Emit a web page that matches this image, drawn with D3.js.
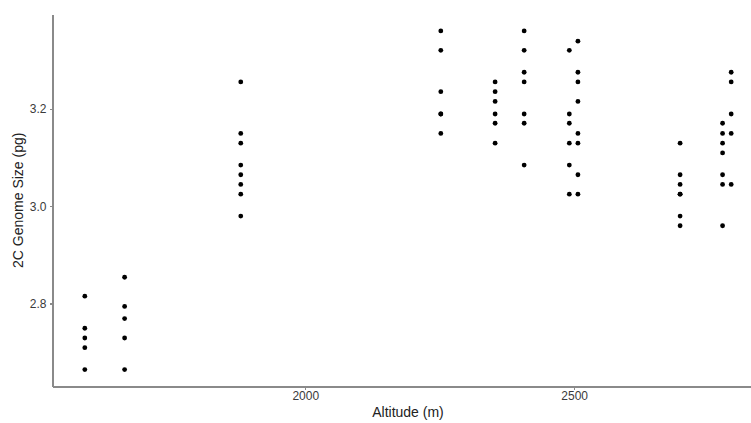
<!doctype html>
<html>
<head>
<meta charset="utf-8">
<title>Genome size vs altitude</title>
<script src="https://cdn.jsdelivr.net/npm/d3@7"></script>
<style>
body { margin: 0; background: #fff; font-family: 'Liberation Sans', Arial, sans-serif; }
.axis path, .axis line { stroke: #8a8a8a; stroke-width: 1.1; shape-rendering: crispEdges; }
.axis text { fill: #3a3a3a; font-size: 12px; font-family: 'Liberation Sans', Arial, sans-serif; }
.title { fill: #222; font-size: 14px; }
</style>
</head>
<body>
<svg id="chart" width="751" height="423"></svg>
<script>
// sites (m) and the 2C values measured at each
var altitudes = [1590, 1664, 1880, 2252, 2353, 2407, 2491, 2507, 2697, 2776, 2792];
var sizes = [
  [2.815, 2.749, 2.729, 2.709, 2.664],
  [2.854, 2.794, 2.769, 2.729, 2.664],
  [3.256, 3.150, 3.130, 3.085, 3.065, 3.045, 3.025, 2.980],
  [3.361, 3.321, 3.236, 3.190, 3.190, 3.150],
  [3.256, 3.236, 3.216, 3.190, 3.171, 3.130],
  [3.361, 3.321, 3.276, 3.256, 3.190, 3.171, 3.085],
  [3.321, 3.190, 3.171, 3.130, 3.085, 3.025],
  [3.340, 3.276, 3.256, 3.216, 3.150, 3.130, 3.065, 3.025],
  [3.130, 3.065, 3.045, 3.025, 3.025, 2.980, 2.960],
  [3.171, 3.150, 3.130, 3.110, 3.065, 3.045, 2.960],
  [3.276, 3.256, 3.190, 3.150, 3.045]
];
var xTicks = [2000, 2500];
var yTicks = [2.8, 3.0, 3.2];

var points = [];
altitudes.forEach(function(a, i) {
  sizes[i].forEach(function(s) { points.push({alt: a, size: s}); });
});

var svg = d3.select("#chart");
var plotL = 52.5, plotR = 763.5, plotT = 14, plotB = 386.5;

// ggplot style 5% padding
var xe = d3.extent(altitudes), xp = (xe[1] - xe[0]) * 0.05;
var ye = d3.extent(points, function(d) { return d.size; }), yp = (ye[1] - ye[0]) * 0.05;

var x = d3.scaleLinear().domain([xe[0] - xp, xe[1] + xp]).range([plotL, plotR]);
var y = d3.scaleLinear().domain([ye[0] - yp, ye[1] + yp]).range([plotB, plotT]);

svg.append("g")
  .attr("class", "axis")
  .attr("transform", "translate(0," + plotB + ")")
  .call(d3.axisBottom(x).tickValues(xTicks).tickSize(3).tickSizeOuter(0).tickPadding(2).tickFormat(d3.format("d")));

svg.append("g")
  .attr("class", "axis")
  .attr("transform", "translate(" + plotL + ",0)")
  .call(d3.axisLeft(y).tickValues(yTicks).tickSize(3).tickSizeOuter(0).tickPadding(3).tickFormat(d3.format(".1f")));

svg.append("g").selectAll("circle")
  .data(points)
  .enter().append("circle")
  .attr("cx", function(d) { return x(d.alt); })
  .attr("cy", function(d) { return y(d.size); })
  .attr("r", 2.4)
  .attr("fill", "#000");

svg.append("text")
  .attr("class", "title")
  .attr("x", (plotL + plotR) / 2)
  .attr("y", 417)
  .attr("text-anchor", "middle")
  .text("Altitude (m)");

svg.append("text")
  .attr("class", "title")
  .attr("transform", "translate(23," + ((plotT + plotB) / 2) + ") rotate(-90)")
  .attr("text-anchor", "middle")
  .text("2C Genome Size (pg)");
</script>
</body>
</html>
